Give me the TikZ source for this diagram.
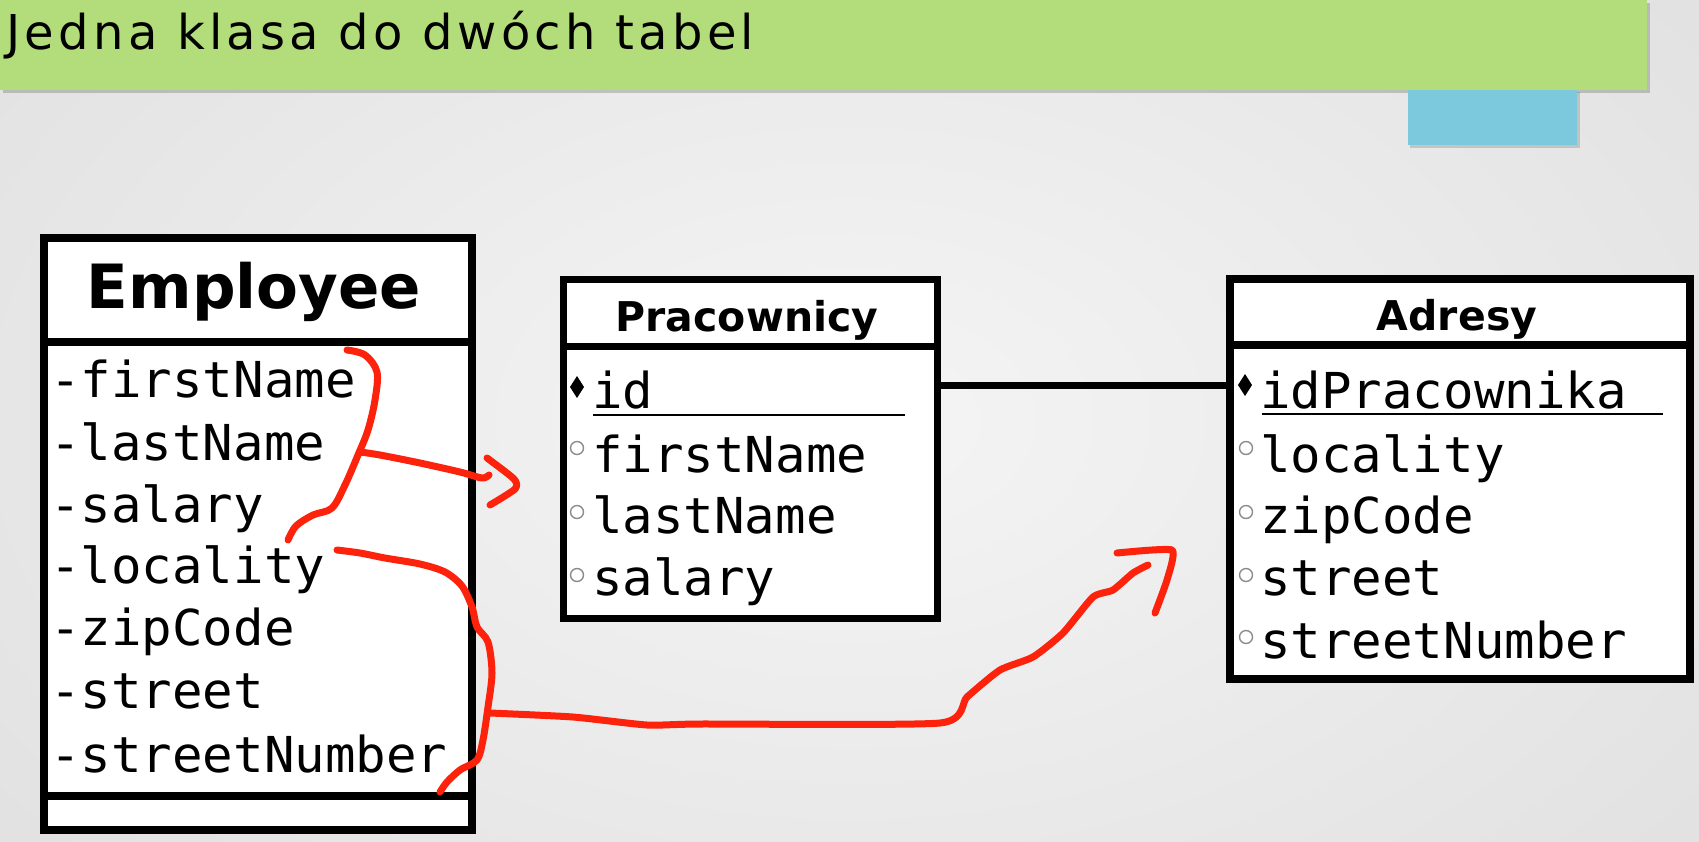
\documentclass[tikz,border=0pt]{standalone}
\usepackage{fontspec}
\setmainfont{DejaVu Sans}
\newfontfamily\monof[FakeStretch=1.025]{DejaVu Sans Mono}
\newfontfamily\handf[LetterSpace=9]{DejaVu Sans}
\definecolor{banner}{RGB}{179,220,122}
\definecolor{tabblue}{RGB}{124,200,221}
\definecolor{pen}{RGB}{252,34,12}
\begin{document}
\begin{tikzpicture}[x=1pt,y=-1pt,
  box/.style={draw=black, line width=8pt, fill=white, inner sep=0pt, anchor=north west},
  attr/.style={anchor=base west, inner sep=0pt, font=\monof\fontsize{49.5}{49.5}\selectfont},
  bigttl/.style={anchor=base, inner sep=0pt, font=\bfseries\fontsize{61}{61}\selectfont},
  ttl/.style={anchor=base, inner sep=0pt, font=\bfseries\fontsize{41}{41}\selectfont},
  fkey/.style={circle, draw=black!45, line width=1.4pt, minimum size=13pt, inner sep=0pt},
  penline/.style={draw=pen, line width=7pt, line cap=round, line join=round},
  divider/.style={line width=8pt}
]
\useasboundingbox (0,0) rectangle (1699,841);
% background
\shade[inner color=white!96!black, outer color=white!88!black] (-300,-300) rectangle (2000,1140);
% banner
\fill[black, opacity=0.18] (3,3) rectangle (1650,93);
\fill[banner] (0,0) rectangle (1647,90);
\fill[black, opacity=0.15] (1410,92) rectangle (1580,148);
\fill[tabblue] (1408,90) rectangle (1577,145);
\node[anchor=base west, inner sep=0pt, font=\handf\fontsize{48}{48}\selectfont] (title) at (6,49) {Jedna klasa do dwóch tabel};

% Employee
\node[box, minimum width=428pt, minimum height=592pt] (emp) at (40,234) {};
\draw[divider] (40,342) -- (468,342);
\draw[divider] (40,796) -- (468,796);
\node[bigttl] (empT) at (254,308) {Employee};
\node[attr] (e1) at (50,397) {-firstName};
\node[attr] (e2) at (50,460) {-lastName};
\node[attr] (e3) at (50,522) {-salary};
\node[attr] (e4) at (50,583) {-locality};
\node[attr] (e5) at (50,645) {-zipCode};
\node[attr] (e6) at (50,708) {-street};
\node[attr] (e7) at (50,772) {-streetNumber};

% Pracownicy
\node[box, line width=7pt, minimum width=374pt, minimum height=339pt] (prac) at (560,276) {};
\draw[line width=7pt] (560,346) -- (934,346);
\node[ttl] (pracT) at (747,331) {Pracownicy};
\node[attr] (p1) at (592,408) {id};
\draw[line width=2.6pt] (593,415) -- (905,415);
\node[attr] (p2) at (592,472) {firstName};
\node[attr] (p3) at (592,533) {lastName};
\node[attr] (p4) at (592,595) {salary};
\fill (577,376) -- (584,387) -- (577,398) -- (570,387) -- cycle;
\node[fkey] (pc2) at (577,448) {};
\node[fkey] (pc3) at (577,512) {};
\node[fkey] (pc4) at (577,575) {};

% Adresy
\node[box, minimum width=460pt, minimum height=400pt] (adr) at (1226,275) {};
\draw[divider] (1226,345) -- (1686,345);
\node[ttl] (adrT) at (1457,330) {Adresy};
\node[attr] (a1) at (1260,408) {idPracownika};
\draw[line width=2.6pt] (1262,414) -- (1663,414);
\node[attr] (a2) at (1260,472) {locality};
\node[attr] (a3) at (1260,533) {zipCode};
\node[attr] (a4) at (1260,595) {street};
\node[attr] (a5) at (1260,658) {streetNumber};
\fill (1245,374) -- (1252,385) -- (1245,396) -- (1238,385) -- cycle;
\node[fkey] (ac2) at (1246,448) {};
\node[fkey] (ac3) at (1246,512) {};
\node[fkey] (ac4) at (1246,575) {};
\node[fkey] (ac5) at (1246,637) {};

% relation line
\coordinate (rel) at (0,385);
\draw[line width=7pt] (prac.east |- rel) -- (adr.west |- rel);

% red pen annotations
\draw[penline] plot[smooth, tension=0.55] coordinates {(347,350) (365,355) (377,372) (375,400) (368,430) (358,455) (345,485) (332,508) (313,515) (296,526) (288,540)};
\draw[penline] plot[smooth, tension=0.5] coordinates {(360,452) (380,455) (420,463) (460,472) (482,478) (489,475)};
\draw[penline] plot[smooth, tension=0.4] coordinates {(487,458) (514,479) (515,489) (490,505)};
\draw[penline] plot[smooth, tension=0.5] coordinates {(337,550) (360,553) (385,558) (420,564) (445,572) (462,586) (472,607) (477,627) (488,642) (492,673) (488,707) (483,740) (477,760) (460,770) (447,782) (440,792)};
\draw[penline] plot[smooth, tension=0.35] coordinates {(490,713) (573,717) (647,725) (700,724) (940,723) (967,697) (1000,670) (1033,657) (1063,633) (1093,597) (1113,590) (1133,573) (1148,565)};
\draw[penline] plot[smooth, tension=0.3] coordinates {(1117,553) (1172,550) (1167,580) (1155,613)};
\end{tikzpicture}
\end{document}
